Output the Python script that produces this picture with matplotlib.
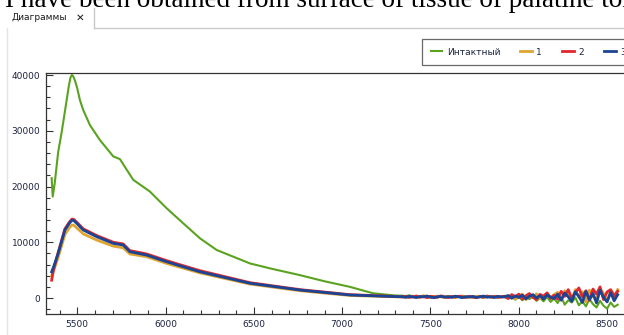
import numpy as np
import matplotlib
matplotlib.use("Agg")
import matplotlib.pyplot as plt
from matplotlib.lines import Line2D

W, H = 624, 335

# --- data ---
green_x = [5355, 5361, 5372, 5392, 5412, 5440, 5452, 5462, 5470, 5478, 5488, 5500, 5515, 5534,
           5572, 5629, 5704, 5742, 5770, 5817, 5911, 6006, 6100, 6195, 6290, 6478,
           6600, 6761, 6900, 7044, 7100, 7176, 7300]
green_y = [21500, 18200, 20500, 26200, 29800, 35500, 38000, 39600, 40000, 39700, 38900, 37600, 35500, 33700,
           31000, 28300, 25400, 24900, 23500, 21200, 19100, 16100, 13400, 10700, 8600, 6200,
           5250, 4100, 3000, 2000, 1500, 840, 450]

low_x = [5355, 5365, 5392, 5430, 5455, 5470, 5480, 5500, 5534, 5610, 5704, 5760, 5798,
         5893, 6006, 6100, 6195, 6478, 6761, 7044, 7320]
blue_y = [4700, 5500, 8000, 12200, 13400, 13950, 13900, 13300, 12200, 11000, 9800, 9500, 8300,
          7700, 6500, 5600, 4700, 2640, 1430, 540, 230]
red_y = [3200, 5000, 8200, 12400, 13600, 14150, 14100, 13500, 12400, 11200, 10000, 9700, 8500,
         7900, 6700, 5800, 4900, 2750, 1500, 600, 260]
orange_y = [4000, 4800, 7300, 11400, 12600, 13100, 13050, 12500, 11500, 10400, 9300, 9000, 7900,
            7400, 6200, 5350, 4500, 2500, 1300, 450, 200]

tail_x = np.arange(7340, 8570, 20)
blue_tail = [250, 120, 310, 180, 90, 260, 200, 340, 150, 60, 220, 300, 140, 260, 100,
             330, 190, 70, 240, 160, 290, 110, 200, 350, 130, 250, 80, 300, 180, 220,
             450, -50, 380, 100, 520, -150, 300, 600, 0, 420, -200, 550, 150, -100,
             700, -400, 900, 200, -600, 1100, 300, -800, 1200, -300, 800, -900, 1400, 100,
             -700, 1000, -500, 600]
red_tail = [180, 300, 90, 240, 350, 130, 270, 60, 310, 200, 120, 380, 210, 70, 280,
            150, 320, 230, 90, 300, 180, 50, 260, 140, 330, 170, 280, 100, 240, 310,
            -100, 600, 200, 700, -200, 400, 800, 100, -300, 650, 300, 900, -100, 500,
            -200, 1200, 300, 1500, -100, 1000, 1800, 200, 1300, -400, 1600, 700, 2000, -300,
            1100, 1500, 400, 1200]
orange_tail = [220, 150, 280, 330, 100, 200, 420, 160, 90, 260, 340, 180, 120, 300, 230,
               80, 270, 350, 150, 210, 100, 290, 230, 160, 380, 120, 200, 270, 140, 330,
               200, 550, -200, 400, 700, -300, 500, 100, 750, -100, 350, 900, 50, 600,
               1000, -300, 1300, 400, -500, 1500, 100, 1100, -700, 1400, 300, -200, 1600, 800,
               -600, 1300, 200, 1500]
green_tail = [420, 350, 480, 300, 380, 250, 330, 410, 200, 300, 150, 360, 250, 120, 280,
              200, 340, 90, 260, 180, 120, 300, 220, 60, 250, 170, 300, 110, 200, 140,
              -100, 300, -300, 200, -400, 100, -200, 350, -500, 0, -600, 200, -700, -100,
              -900, 200, -1200, -400, -800, 100, -1300, -600, -1500, -200, -1100, -1700, -500, -1400,
              -1900, -800, -1600, -1200]

labels = ["Интактный", "1", "2", "3"]
colors = ["#5aa320", "#e0a431", "#e3262b", "#1b4494"]


def fx(x):
    return x / W


def fy(y):
    return 1 - y / H


fig = plt.figure(figsize=(W / 100, H / 100), dpi=100)
fig.patch.set_facecolor("white")

# document text, cut off at the top of the screenshot
fig.text(fx(5), fy(7), "I have been obtained from surface of tissue of palatine tonsil",
         family="Liberation Serif", fontsize=19.5, va="baseline", ha="left", color="black")

# tab and window frame
fig.add_artist(Line2D([fx(94), fx(94)], [fy(8), fy(28)], color="#c8c8c8", lw=1))
fig.add_artist(Line2D([fx(94), fx(W)], [fy(28), fy(28)], color="#c8c8c8", lw=1))
fig.add_artist(Line2D([fx(7), fx(7)], [fy(28), fy(H)], color="#e4e4e4", lw=1))
fig.text(fx(11), fy(18), "Диаграммы", fontsize=6.5, va="center", ha="left", color="#1a1a1a")
fig.text(fx(76), fy(18), "✕", fontsize=7.5, va="center", ha="left", color="#1a1a1a",
         family="DejaVu Sans", weight="bold")

# plot area: right edge lies beyond the cropped screenshot
ax_l, ax_t, ax_b, ax_r = 46, 73, 314, 700
ax = fig.add_axes([fx(ax_l), fy(ax_b), (ax_r - ax_l) / W, (ax_b - ax_t) / H])
ax.set_xlim(5323, 9026)
ax.set_ylim(-2870, 40360)

ax.plot(list(green_x) + list(tail_x), green_y + green_tail, color=colors[0], lw=1.5, label=labels[0])
ax.plot(list(low_x) + list(tail_x), orange_y + orange_tail, color=colors[1], lw=2.0, label=labels[1])
ax.plot(list(low_x) + list(tail_x), red_y + red_tail, color=colors[2], lw=2.0, label=labels[2])
ax.plot(list(low_x) + list(tail_x), blue_y + blue_tail, color=colors[3], lw=2.0, label=labels[3])

ax.set_xticks([5500, 6000, 6500, 7000, 7500, 8000, 8500])
ax.set_xticks(np.arange(5400, 9000, 100), minor=True)
ax.set_yticks([0, 10000, 20000, 30000, 40000])
ax.set_yticks(np.arange(-2000, 40001, 2000), minor=True)
ax.tick_params(which="both", direction="in", colors="#333333", labelcolor="#1c2340",
               labelsize=6.5, width=0.8)
ax.tick_params(which="major", length=5, pad=4)
ax.tick_params(which="minor", length=3)
for s in ax.spines.values():
    s.set_color("#333333")
    s.set_linewidth(0.9)

leg = fig.legend(loc="upper left", bbox_to_anchor=(fx(422), fy(39)), ncol=4,
                 fontsize=6.5, frameon=True, fancybox=False, edgecolor="#444444",
                 handlelength=1.3, handletextpad=0.5, columnspacing=2.2,
                 borderpad=0.95, borderaxespad=0)
leg.get_frame().set_linewidth(0.9)
for t in leg.get_texts():
    t.set_color("#1c2340")

fig.savefig("out.png", dpi=100)
